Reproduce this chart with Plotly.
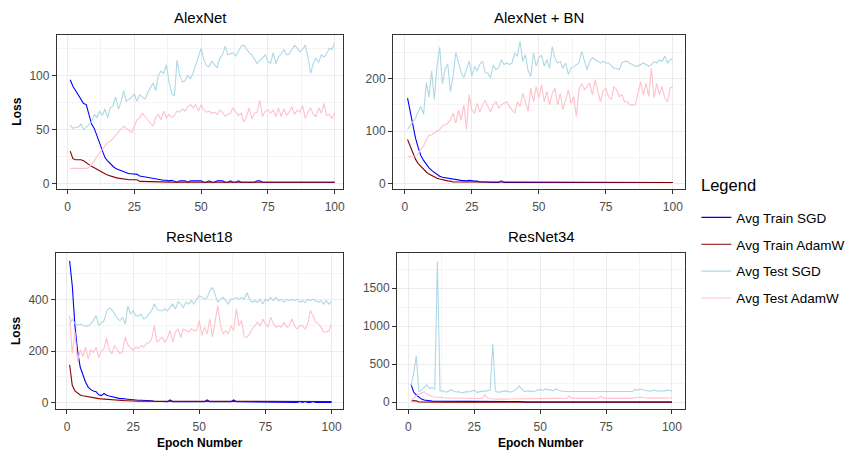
import plotly.graph_objects as go

epochs = list(range(1, 101))

# ---------------- AlexNet ----------------
alex_train_sgd = [96, 90, 86, 82, 78, 74, 73, 63, 55, 51,
                  44, 36, 29, 24, 21, 18, 16, 14, 13, 12,
                  11, 9.5, 9, 9, 9, 8.5, 7, 6.5, 6, 5.5,
                  5, 5, 4.5, 4, 3.5, 3, 3, 2.5, 3, 2,
                  1.2, 2.5, 2.5, 2.5, 1.2, 2.5, 2.5, 2.5, 2.5, 2.5,
                  1.2, 1.2, 2.5, 1.2, 1.2, 2.5, 2.5, 2.5, 1.2, 1.2,
                  2.5, 1.2, 1.2, 2.5, 1.2, 1.2, 1.2, 1.2, 1.2, 1.2,
                  2.5, 2.5, 1.2, 1.2, 1.2, 1.2, 1.2, 1.2, 1.2, 1.2,
                  1.2, 1.2, 1.2, 1.2, 1.2, 1.2, 1.2, 1.2, 1.2, 1.2,
                  1.2, 1.2, 1.2, 1.2, 1.2, 1.2, 1.2, 1.2, 1.2, 1.2]
alex_train_adamw = [30, 23, 22, 22, 22, 21, 19, 17.5, 16, 14.5,
                    13, 11.5, 10, 9, 8, 7, 6.5, 5.5, 5, 4.5,
                    4, 4, 3.5, 3.5, 3.5, 3.5, 2, 2, 1.8, 1.8,
                    1.6, 1.5, 1.5, 1.5, 1.5, 1.5, 1.5, 1.3, 1.3, 1.2,
                    1.2, 1.2, 1.2, 1.2, 1.2, 1.2, 1.2, 1.2, 1.2, 1.2,
                    1.2, 1.2, 1.2, 1.2, 1.2, 1.2, 1.2, 1.2, 1.2, 1.2,
                    1.2, 1.2, 1.2, 1.2, 1.2, 1.2, 1.2, 1.2, 1.2, 1.2,
                    1.2, 1.2, 1.2, 1.2, 1.2, 1.2, 1.2, 1.2, 1.2, 1.2,
                    1.2, 1.2, 1.2, 1.2, 1.2, 1.2, 1.2, 1.2, 1.2, 1.2,
                    1.2, 1.2, 1.2, 1.2, 1.2, 1.2, 1.2, 1.2, 1.2, 1.2]
alex_test_sgd = [54, 51, 52, 52, 55, 50, 52, 55, 57, 64,
                 61, 67, 63, 69, 61, 70, 72, 80, 69, 75,
                 86, 76, 78, 80, 83, 76, 82, 80, 78, 84,
                 88, 93, 86, 100, 104, 102, 110, 94, 83, 81,
                 114, 100, 94, 95, 100, 97, 102, 110, 118, 125,
                 115, 109, 108, 113, 110, 107, 116, 119, 127, 119,
                 120, 121, 118, 122, 127, 128, 124, 121, 119, 115,
                 111, 114, 116, 119, 113, 111, 121, 111, 117, 120,
                 124, 119, 120, 124, 128, 125, 122, 124, 128, 117,
                 102, 111, 116, 112, 119, 117, 120, 125, 124, 130]
alex_test_adamw = [14, 14, 14, 14, 14, 14, 14, 15, 17.6, 21,
                   25, 28, 31, 34, 38, 39, 42, 45, 48, 51,
                   53, 51, 49, 47, 53, 59, 61, 65, 62, 59,
                   56, 53, 61, 64, 59, 67, 61, 64, 61, 63,
                   67, 66, 69, 67, 71, 73, 70, 73, 67, 73,
                   68, 66, 67, 65, 66, 64, 68, 66, 62, 64,
                   65, 70, 66, 63, 65, 57, 62, 70, 60, 65,
                   66, 77, 62, 67, 68, 65, 68, 62, 70, 62,
                   69, 63, 66, 71, 64, 68, 66, 72, 60, 66,
                   70, 64, 62, 70, 65, 74, 63, 64, 60, 66]

# ---------------- AlexNet + BN ----------------
bn_train_sgd = [163, 138, 108, 86, 68, 53, 44, 36, 30, 25,
                21, 17, 14, 12, 11, 10, 9, 8, 7, 6.5,
                6, 5.5, 5, 6, 5, 4.5, 4.5, 3, 3, 2.5,
                2, 2, 2, 2, 2, 5, 2, 2, 2, 2,
                2, 2, 2, 2, 2, 2, 2, 2, 2, 2,
                2, 2, 2, 2, 2, 2, 2, 2, 2, 2,
                2, 2, 2, 2, 2, 2, 2, 2, 2, 2,
                2, 2, 2, 2, 2, 2, 2, 2, 2, 2,
                2, 2, 2, 2, 2, 2, 2, 2, 2, 2,
                2, 2, 2, 2, 2, 2, 2, 2, 2, 2]
bn_train_adamw = [84, 70, 56, 46, 38, 32, 27, 22, 18, 15,
                  12, 10, 8.5, 7, 6, 5, 4.5, 3, 3, 3,
                  3, 3, 3, 3, 3, 3, 3, 2, 2, 2,
                  2, 2, 2, 2, 2, 2, 2, 2, 2, 2,
                  2, 2, 2, 2, 2, 2, 2, 2, 2, 2,
                  2, 2, 2, 2, 2, 2, 2, 2, 2, 2,
                  2, 2, 2, 2, 2, 2, 2, 2, 2, 2,
                  2, 2, 2, 2, 2, 2, 2, 2, 2, 2,
                  2, 2, 2, 2, 2, 2, 2, 2, 2, 2,
                  2, 2, 2, 2, 2, 2, 2, 2, 2, 2]
bn_test_sgd = [103, 110, 118, 125, 138, 147, 132, 192, 165, 215,
               160, 225, 260, 190, 218, 228, 175, 205, 250, 230,
               212, 202, 218, 234, 205, 223, 215, 228, 233, 212,
               210, 202, 226, 217, 221, 236, 227, 230, 227, 230,
               249, 243, 271, 233, 246, 215, 204, 249, 224, 240,
               245, 224, 236, 220, 261, 239, 230, 233, 220, 230,
               208, 220, 223, 227, 230, 252, 236, 217, 233, 240,
               236, 233, 230, 233, 230, 230, 224, 220, 220, 217,
               230, 233, 233, 229, 227, 224, 224, 227, 230, 227,
               224, 226, 233, 230, 236, 233, 243, 230, 236, 238]
bn_test_adamw = [51, 51, 52, 53, 56, 66, 71, 84, 92, 93,
                 97, 100, 103, 110, 112, 115, 121, 134, 115, 140,
                 121, 150, 103, 169, 140, 134, 153, 137, 150, 159,
                 147, 137, 150, 156, 144, 150, 153, 156, 147, 140,
                 134, 156, 147, 172, 153, 138, 182, 156, 185, 163,
                 188, 156, 176, 150, 172, 182, 150, 172, 141, 160,
                 179, 153, 166, 128, 180, 191, 179, 185, 192, 169,
                 198, 176, 156, 176, 182, 166, 160, 185, 179, 166,
                 169, 156, 156, 150, 150, 150, 172, 194, 169, 191,
                 166, 220, 163, 191, 169, 185, 163, 156, 182, 185]

# ---------------- ResNet18 ----------------
r18_train_sgd = [551, 454, 300, 200, 138, 105, 80, 60, 50, 45,
                 42, 30, 27, 35, 28, 25, 22, 18, 15, 15,
                 15, 13, 13, 12, 10, 9, 9, 9, 9, 9,
                 8, 7, 5, 4, 3, 3, 3, 3, 10, 3,
                 3, 3, 3, 3, 3, 3, 3, 3, 3, 3,
                 3, 3, 10, 3, 3, 3, 3, 3, 3, 3,
                 3, 3, 10, 3, 3, 3, 3, 3, 3, 3,
                 0.5, 0.5, 0.5, 0.5, 0.5, 0.5, 0.5, 0.5, 0.5, 0.5,
                 0.5, 0.5, 0.5, 0.5, 0.5, 0.5, 0.5, 4, 0.5, 4,
                 0.5, 0.5, 4, 0.5, 0.5, 0.5, 0.5, 0.5, 0.5, 0.5]
r18_train_adamw = [147, 67, 45, 35, 29, 26, 24, 21, 19, 18,
                   16, 15, 14, 13, 12, 11, 10, 10, 9, 8,
                   8, 7, 7, 6, 6, 5, 5, 5, 5, 5,
                   5, 5, 5, 5, 5, 5, 5, 5, 5, 5,
                   5, 5, 5, 5, 5, 5, 5, 5, 5, 5,
                   5, 5, 5, 5, 5, 5, 5, 5, 5, 5,
                   5, 5, 5, 5, 5, 5, 5, 5, 5, 5,
                   4, 4, 4, 4, 4, 4, 4, 4, 4, 4,
                   4, 4, 4, 4, 4, 4, 4, 4, 4, 4,
                   4, 4, 4, 4, 4, 4, 4, 4, 4, 4]
r18_test_sgd = [302, 325, 308, 300, 305, 302, 297, 298, 305, 320,
                338, 300, 310, 318, 355, 368, 360, 344, 328, 318,
                331, 305, 375, 344, 357, 338, 336, 344, 325, 331,
                344, 357, 383, 364, 357, 357, 364, 357, 370, 383,
                364, 392, 383, 370, 390, 383, 396, 383, 402, 415,
                409, 402, 409, 435, 448, 415, 390, 402, 409, 396,
                383, 402, 402, 409, 402, 409, 402, 428, 402, 390,
                396, 390, 402, 383, 402, 396, 409, 396, 409, 396,
                402, 390, 402, 396, 402, 396, 402, 390, 396, 390,
                402, 396, 402, 396, 390, 396, 383, 396, 383, 394]
r18_test_adamw = [338, 190, 275, 160, 205, 180, 215, 170, 205, 195,
                  215, 175, 200, 210, 250, 205, 190, 222, 205, 190,
                  198, 255, 225, 212, 203, 216, 210, 222, 216, 229,
                  232, 248, 299, 235, 245, 254, 235, 251, 280, 235,
                  274, 286, 254, 286, 280, 274, 286, 280, 280, 318,
                  261, 293, 267, 325, 254, 320, 377, 300, 267, 280,
                  267, 299, 280, 364, 299, 319, 255, 254, 267, 286,
                  299, 312, 299, 325, 306, 293, 332, 306, 293, 299,
                  293, 312, 293, 299, 325, 299, 286, 299, 299, 286,
                  306, 357, 338, 312, 306, 293, 274, 274, 280, 306]

# ---------------- ResNet34 ----------------
r34_train_sgd = [235, 135, 95, 62, 42, 30, 22, 18, 15, 14,
                 13, 14, 12, 12, 12, 12, 12, 12, 12, 12,
                 12, 12, 12, 12, 12, 12, 12, 8, 3, 10,
                 3, 10, 10, 3, 3, 3, 3, 3, 3, 3,
                 3, 3, 10, 2, 2, 2, 2, 2, 2, 2,
                 2, 2, 2, 2, 2, 2, 2, 2, 2, 2,
                 2, 2, 2, 2, 2, 2, 2, 2, 2, 2,
                 2, 2, 2, 2, 2, 2, 2, 2, 2, 2,
                 2, 2, 2, 2, 2, 2, 2, 2, 2, 2,
                 2, 2, 2, 2, 2, 2, 2, 2, 2, 2]
r34_train_adamw = [22, 20, 19, 3, 2, 2, 2, 2, 2, 2,
                   2, 2, 2, 2, 2, 2, 2, 2, 2, 2,
                   2, 2, 2, 2, 2, 2, 2, 2, 2, 2,
                   2, 2, 2, 2, 2, 2, 2, 2, 2, 2,
                   2, 2, 2, 2, 2, 2, 2, 2, 2, 2,
                   2, 2, 2, 2, 2, 2, 2, 2, 2, 2,
                   2, 2, 2, 2, 2, 2, 2, 2, 2, 2,
                   2, 2, 2, 2, 2, 2, 2, 2, 2, 2,
                   2, 2, 2, 2, 2, 2, 2, 2, 2, 2,
                   2, 2, 2, 2, 2, 2, 2, 2, 2, 2]
r34_test_sgd = [220, 380, 610, 140, 160, 200, 230, 180, 195, 170,
                1850, 150, 150, 135, 140, 165, 150, 135, 140, 125,
                130, 140, 135, 145, 160, 130, 140, 145, 150, 150,
                160, 770, 150, 130, 140, 145, 150, 140, 135, 150,
                170, 215, 170, 140, 145, 150, 140, 145, 160, 170,
                155, 175, 160, 165, 150, 175, 155, 145, 142, 141,
                141, 141, 141, 141, 141, 141, 141, 141, 141, 141,
                141, 141, 141, 141, 141, 141, 141, 141, 141, 141,
                141, 141, 141, 141, 141, 170, 160, 175, 160, 155,
                150, 145, 160, 150, 145, 150, 150, 160, 150, 150]
r34_test_adamw = [20, 55, 85, 108, 125, 140, 105, 85, 75, 70,
                  66, 64, 58, 57, 56, 57, 56, 57, 56, 54,
                  52, 51, 48, 49, 48, 48, 48, 50, 100, 55,
                  46, 42, 41, 42, 41, 42, 42, 41, 42, 42,
                  43, 45, 48, 47, 47, 48, 47, 48, 48, 47,
                  50, 53, 56, 57, 55, 53, 52, 50, 50, 51,
                  80, 55, 51, 50, 48, 48, 48, 49, 50, 51,
                  52, 53, 80, 55, 52, 51, 50, 49, 48, 48,
                  48, 48, 48, 51, 55, 60, 70, 67, 60, 57,
                  56, 55, 55, 55, 56, 56, 55, 56, 56, 56]

panel_titles = ["AlexNet", "AlexNet + BN", "ResNet18", "ResNet34"]
series_names = ["Avg Train SGD", "Avg Train AdamW", "Avg Test SGD", "Avg Test AdamW"]
series_colors = ["#0000FF", "#8B0000", "#ADD8E6", "#FFC0CB"]
panel_data = [
    [alex_train_sgd, alex_train_adamw, alex_test_sgd, alex_test_adamw],
    [bn_train_sgd, bn_train_adamw, bn_test_sgd, bn_test_adamw],
    [r18_train_sgd, r18_train_adamw, r18_test_sgd, r18_test_adamw],
    [r34_train_sgd, r34_train_adamw, r34_test_sgd, r34_test_adamw],
]
y_ticks = [[0, 50, 100], [0, 100, 200], [0, 200, 400], [0, 500, 1000, 1500]]
y_minor = [25, 50, 100, 250]
x_ticks = [0, 25, 50, 75, 100]

W, H = 854, 458
# panel boxes in pixels (left, right, top, bottom)
boxes = [(57, 344, 35, 190), (394, 687, 35, 190), (56, 344, 254.5, 411), (398, 687, 254.5, 411)]
x_ranges = [[-4.0, 103.2], [-4.4, 104.7], [-4.2, 104.4], [-4.3, 105.1]]
y_ranges = [[-5.2, 137.5], [-10.8, 283.6], [-26, 580], [-91, 1957]]

FONT = "Liberation Sans, Arial, sans-serif"

fig = go.Figure()
for p in range(4):
    xa = "x" if p == 0 else f"x{p+1}"
    ya = "y" if p == 0 else f"y{p+1}"
    for s in range(4):
        fig.add_trace(go.Scatter(
            x=epochs, y=panel_data[p][s], mode="lines",
            name=series_names[s], legendgroup=series_names[s],
            showlegend=(p == 0),
            line=dict(color=series_colors[s], width=1.1),
            xaxis=xa, yaxis=ya,
        ))

layout = dict(
    width=W, height=H,
    margin=dict(l=0, r=0, t=0, b=0),
    paper_bgcolor="white", plot_bgcolor="white",
    font=dict(family=FONT),
    showlegend=True,
    legend=dict(
        font=dict(size=13.5, color="black", family=FONT),
        x=698 / W, y=1 - 203 / H, xanchor="left", yanchor="top",
        bgcolor="rgba(0,0,0,0)", tracegroupgap=6.3, itemwidth=30,
    ),
)

annotations = []
for p in range(4):
    l, r, t, b = boxes[p]
    sfx = "" if p == 0 else str(p + 1)
    layout["xaxis" + sfx] = dict(
        domain=[l / W, r / W], anchor="y" + sfx, range=x_ranges[p],
        tickmode="array", tickvals=x_ticks, ticktext=[str(v) for v in x_ticks],
        showgrid=True, gridcolor="#EBEBEB", gridwidth=1.1, zeroline=False,
        showline=True, mirror=True, linecolor="#333333", linewidth=1.1,
        ticks="outside", ticklen=4, tickcolor="#333333", tickwidth=1.1,
        ticklabelstandoff=2,
        tickfont=dict(size=12, color="#4D4D4D", family=FONT),
        minor=dict(dtick=12.5, tick0=0, showgrid=True, gridcolor="#F4F4F4", gridwidth=0.6, ticks=""),
    )
    layout["yaxis" + sfx] = dict(
        domain=[1 - b / H, 1 - t / H], anchor="x" + sfx, range=y_ranges[p],
        tickmode="array", tickvals=y_ticks[p], ticktext=[str(v) for v in y_ticks[p]],
        showgrid=True, gridcolor="#EBEBEB", gridwidth=1.1, zeroline=False,
        showline=True, mirror=True, linecolor="#333333", linewidth=1.1,
        ticks="outside", ticklen=4, tickcolor="#333333", tickwidth=1.1,
        tickfont=dict(size=12, color="#4D4D4D", family=FONT),
        minor=dict(dtick=y_minor[p], tick0=0, showgrid=True, gridcolor="#F4F4F4", gridwidth=0.6, ticks=""),
    )
    cx = (l + r) / 2
    annotations.append(dict(
        text=panel_titles[p], x=cx / W, y=1 - (t - 17) / H, xref="paper", yref="paper",
        xanchor="center", yanchor="middle", showarrow=False,
        font=dict(size=15, color="black", family=FONT),
    ))

# axis titles
for cy in [(35 + 190) / 2, (254.5 + 411) / 2]:
    annotations.append(dict(
        text="<b>Loss</b>", x=16.7 / W, y=1 - cy / H, xref="paper", yref="paper",
        xanchor="center", yanchor="middle", showarrow=False, textangle=-90,
        font=dict(size=12, color="black", family=FONT),
    ))
for cx in [200, 542]:
    annotations.append(dict(
        text="<b>Epoch Number</b>", x=cx / W, y=1 - 444.5 / H, xref="paper", yref="paper",
        xanchor="center", yanchor="middle", showarrow=False,
        font=dict(size=12, color="black", family=FONT),
    ))
# legend heading
annotations.append(dict(
    text="Legend", x=701 / W, y=1 - 186 / H, xref="paper", yref="paper",
    xanchor="left", yanchor="middle", showarrow=False,
    font=dict(size=16.5, color="black", family=FONT),
))
layout["annotations"] = annotations

fig.update_layout(**layout)
fig.write_html("out.html")
